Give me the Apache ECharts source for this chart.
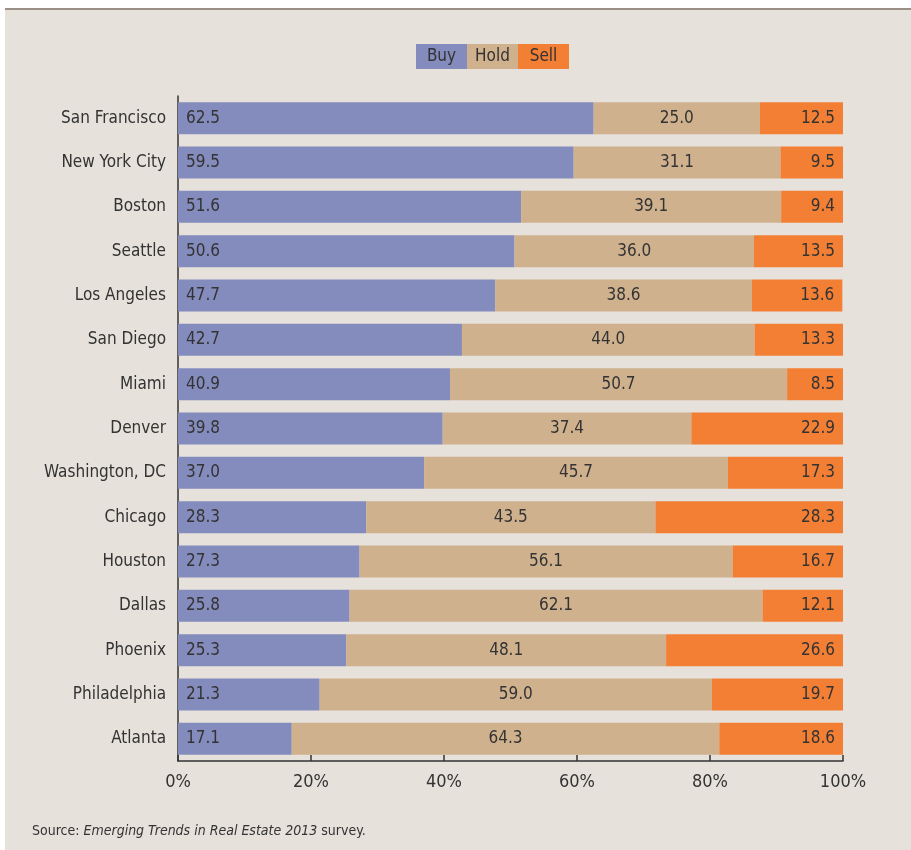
<!DOCTYPE html>
<html><head><meta charset="utf-8">
<script src="https://cdn.jsdelivr.net/npm/echarts@6/dist/echarts.min.js"></script>
<style>html,body{margin:0;padding:0;background:#fff}#c{width:911px;height:850px}</style>
</head><body><div id="c"></div>
<script>
const cities = ['San Francisco','New York City','Boston','Seattle','Los Angeles','San Diego','Miami','Denver','Washington, DC','Chicago','Houston','Dallas','Phoenix','Philadelphia','Atlanta'];
const buy  = [62.5,59.5,51.6,50.6,47.7,42.7,40.9,39.8,37.0,28.3,27.3,25.8,25.3,21.3,17.1];
const hold = [25.0,31.1,39.1,36.0,38.6,44.0,50.7,37.4,45.7,43.5,56.1,62.1,48.1,59.0,64.3];
const sell = [12.5,9.5,9.4,13.5,13.6,13.3,8.5,22.9,17.3,28.3,16.7,12.1,26.6,19.7,18.6];
const seriesNames = ['Buy','Hold','Sell'];
const colors = ['#848bbd','#cfb18e','#f37f34'];
const xTicks = [0,20,40,60,80,100];

const FONT = '"Liberation Sans Narrow", "DejaVu Sans Condensed", sans-serif';
const FS = 17;
const chart = echarts.init(document.getElementById('c'));
const lbl = (pos, dist) => ({show:true, position:pos, distance:dist, color:'#333', fontFamily:FONT, fontSize:FS, formatter:p=>p.value.toFixed(1)});
const mk = (name, data, i, label) => ({name, type:'bar', stack:'t', data, barCategoryGap:'28%', itemStyle:{color:colors[i]}, label, silent:true});
const legendRich = {};
seriesNames.forEach((n,i)=>{ legendRich['b'+i] = {backgroundColor:colors[i], width:51, height:25, lineHeight:25, align:'center', fontFamily:FONT, fontSize:FS, color:'#333'}; });
chart.setOption({
  backgroundColor:'#ffffff',
  animation:false,
  graphic:[
    {type:'rect', z:-10, shape:{x:5,y:9,width:906,height:841}, style:{fill:'#e6e1db'}},
    {type:'line', z:-9, shape:{x1:5,y1:9,x2:911,y2:9}, style:{stroke:'#9b9088', lineWidth:2}},
    {type:'text', left:32, top:824, style:{
      text:'{n|Source: }{i|Emerging Trends in Real Estate 2013}{n| survey.}',
      rich:{n:{fontFamily:FONT,fontSize:14,fill:'#333'}, i:{fontFamily:FONT,fontSize:14,fontStyle:'italic',fill:'#333'}}
    }}
  ],
  legend:{
    top:44, left:411, itemGap:-5, itemWidth:0, itemHeight:0, icon:'rect', selectedMode:false, padding:0,
    formatter: n => '{b'+seriesNames.indexOf(n)+'|'+n+'}',
    textStyle:{rich:legendRich},
    data: seriesNames.map(n=>({name:n, itemStyle:{opacity:0}}))
  },
  grid:{left:178, right:68, top:96, bottom:89, containLabel:false},
  xAxis:{type:'value', min:0, max:100, interval:20,
    axisLine:{show:true, lineStyle:{color:'#333', width:1.5}},
    axisTick:{show:true, inside:true, length:6, lineStyle:{color:'#333', width:1.5}},
    splitLine:{show:false},
    axisLabel:{formatter:v=>v+'%', color:'#333', fontFamily:FONT, fontSize:FS+1, margin:12,
      customValues: xTicks}
  },
  yAxis:{type:'category', data:cities, inverse:true,
    axisLine:{show:true, lineStyle:{color:'#333', width:1.5}},
    axisTick:{show:false},
    axisLabel:{color:'#333', fontFamily:FONT, fontSize:FS, margin:12}
  },
  series:[
    mk('Buy', buy, 0, lbl('insideLeft', 8)),
    mk('Hold', hold, 1, lbl('inside', 0)),
    mk('Sell', sell, 2, lbl('insideRight', 8))
  ]
});
</script></body></html>
